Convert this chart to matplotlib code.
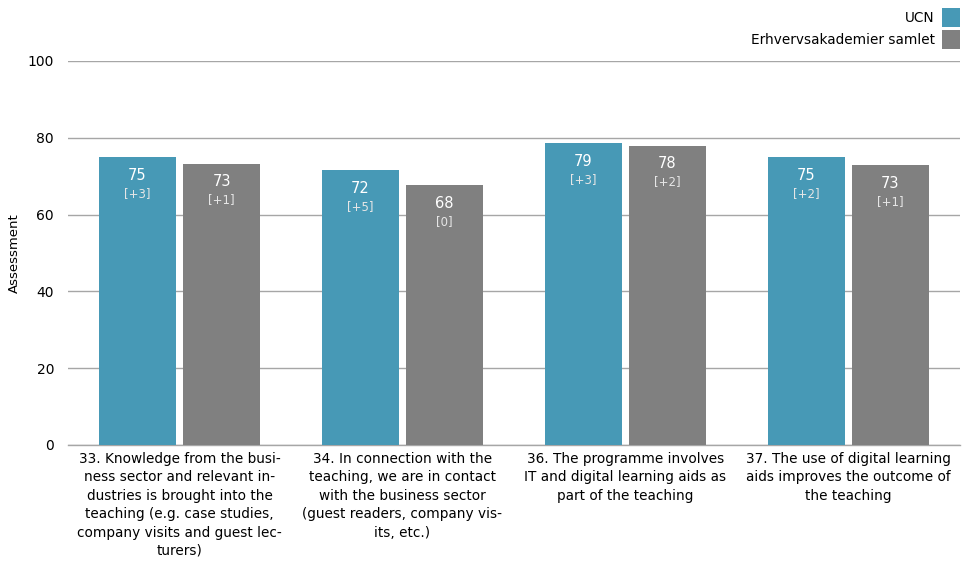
import matplotlib.pyplot as plt
import numpy as np

categories = [
    "33. Knowledge from the busi-\nness sector and relevant in-\ndustries is brought into the\nteaching (e.g. case studies,\ncompany visits and guest lec-\nturers)",
    "34. In connection with the\nteaching, we are in contact\nwith the business sector\n(guest readers, company vis-\nits, etc.)",
    "36. The programme involves\nIT and digital learning aids as\npart of the teaching",
    "37. The use of digital learning\naids improves the outcome of\nthe teaching",
]
series_names = ["UCN", "Erhvervsakademier samlet"]
ucn_values = [75.0, 71.6, 78.6, 75.0]
all_values = [73.2, 67.7, 77.9, 72.9]
ucn_labels = ["75", "72", "79", "75"]
all_labels = ["73", "68", "78", "73"]
ucn_diffs = ["[+3]", "[+5]", "[+3]", "[+2]"]
all_diffs = ["[+1]", "[0]", "[+2]", "[+1]"]
yticks = [0, 20, 40, 60, 80, 100]

plt.rcParams['font.family'] = ['DejaVu Sans']
blue = "#4799B6"
grey = "#808080"

fig = plt.figure(figsize=(9.67, 5.66), dpi=100)
ax = fig.add_axes([68/967, 1-445/566, (960-68)/967, (445-61)/566])

x = np.arange(len(categories))
w = 77/223
off = (77+7)/223/2
b1 = ax.bar(x-off, ucn_values, w, color=blue, label=series_names[0], zorder=3)
b2 = ax.bar(x+off, all_values, w, color=grey, label=series_names[1], zorder=3)

for bars, labs, diffs in [(b1, ucn_labels, ucn_diffs), (b2, all_labels, all_diffs)]:
    for r, l, d in zip(bars, labs, diffs):
        cx = r.get_x() + r.get_width()/2
        top = r.get_height()
        ax.annotate(l, (cx, top), xytext=(0, -13), textcoords="offset points",
                    ha="center", va="center", color="white", fontsize=10.5, zorder=4)
        ax.annotate(d, (cx, top), xytext=(0, -26), textcoords="offset points",
                    ha="center", va="center", color="#e6e6e6", fontsize=8.5, zorder=4)

ax.set_xlim(-0.5, 3.5)
ax.set_ylim(0, 100)
ax.set_yticks(yticks)
ax.yaxis.grid(True, color="#a6a6a6", linewidth=1, zorder=0)
ax.axhline(0, color="#a6a6a6", linewidth=1, zorder=1, clip_on=False)
ax.set_axisbelow(True)
for s in ax.spines.values():
    s.set_visible(False)
ax.tick_params(axis='y', length=0, pad=10, labelsize=10, colors="#000000")
ax.tick_params(axis='x', length=0, pad=5)
ax.set_xticks(x)
ax.set_xticklabels(categories, fontsize=9.8, linespacing=1.4)
ax.set_ylabel("Assessment", fontsize=9.5, labelpad=5)

fig.legend(handles=[b1, b2], loc="upper right", bbox_to_anchor=(960/967, 1-8/566),
           frameon=False, markerfirst=False, fontsize=9.8, handlelength=1.32,
           handleheight=1.75, handletextpad=0.55, labelspacing=0.22, borderaxespad=0,
           borderpad=0)

fig.savefig("out.png", dpi=100)
